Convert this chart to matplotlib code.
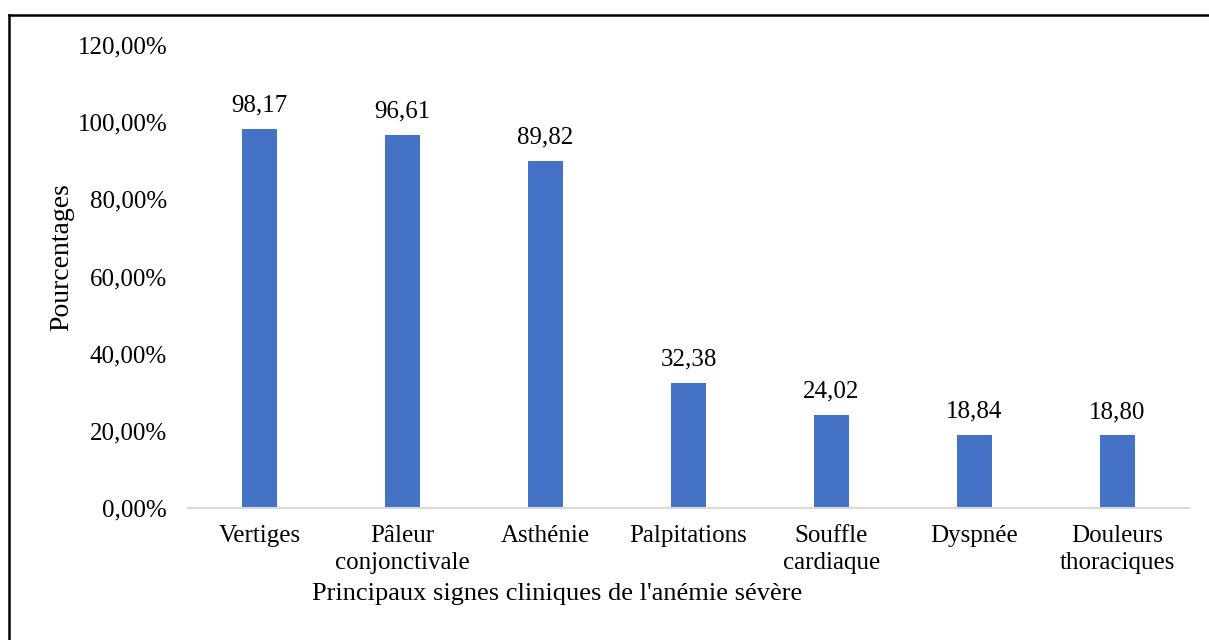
#bar chart of the main clinical signs of severe anaemia

import matplotlib.pyplot as plt
import numpy as np
from matplotlib.lines import Line2D

signes = ["Vertiges", "Pâleur\nconjonctivale", "Asthénie", "Palpitations",
          "Souffle\ncardiaque", "Dyspnée", "Douleurs\nthoraciques"]
pourcent = [98.17, 96.61, 89.82, 32.38, 24.02, 18.84, 18.80]
yticks = [0, 20, 40, 60, 80, 100, 120]

plt.rcParams['font.family'] = ['Liberation Serif', 'DejaVu Serif']

fig = plt.figure(figsize=(12.09, 6.4), dpi=100)
ax = fig.add_axes([188/1209, 132/640, 1001/1209, 463/640])

x = np.arange(len(signes))
ax.bar(x, pourcent, width=0.25, color='#4472C4')

for xi, v in zip(x, pourcent):
    ax.annotate(("%.2f" % v).replace('.', ','), (xi, v), xytext=(0, 9),
                textcoords='offset points', ha='center', va='bottom', fontsize=18)

ax.set_xlim(-0.5, len(signes) - 0.5)
ax.set_ylim(0, 120)
ax.set_yticks(yticks)
ax.set_yticklabels([("%.2f%%" % t).replace('.', ',') for t in yticks], fontsize=18)
ax.set_xticks(x)
ax.set_xticklabels(signes, fontsize=18, linespacing=1.3)
ax.tick_params(axis='both', length=0)
ax.tick_params(axis='y', pad=15)
ax.tick_params(axis='x', pad=12)

for s in ['top', 'right', 'left']:
    ax.spines[s].set_visible(False)
ax.spines['bottom'].set_color('#D9D9D9')
ax.spines['bottom'].set_linewidth(1.5)

ax.set_ylabel('Pourcentages', fontsize=20)
ax.yaxis.set_label_coords(-0.126, 0.542)
ax.yaxis.label.set_va('center')
ax.set_xlabel("Principaux signes cliniques de l'anémie sévère", fontsize=19)
ax.xaxis.set_label_coords(0.369, -0.185)
ax.xaxis.label.set_va('center')

#frame around the figure (left and top only visible)
fig.add_artist(Line2D([8.5/1209, 8.5/1209], [0, 1 - 14.5/640], color='black', lw=1.8,
                      transform=fig.transFigure))
fig.add_artist(Line2D([8.5/1209, 1], [1 - 14.5/640, 1 - 14.5/640], color='black', lw=1.8,
                      transform=fig.transFigure))

plt.savefig('out.png', dpi=100)
